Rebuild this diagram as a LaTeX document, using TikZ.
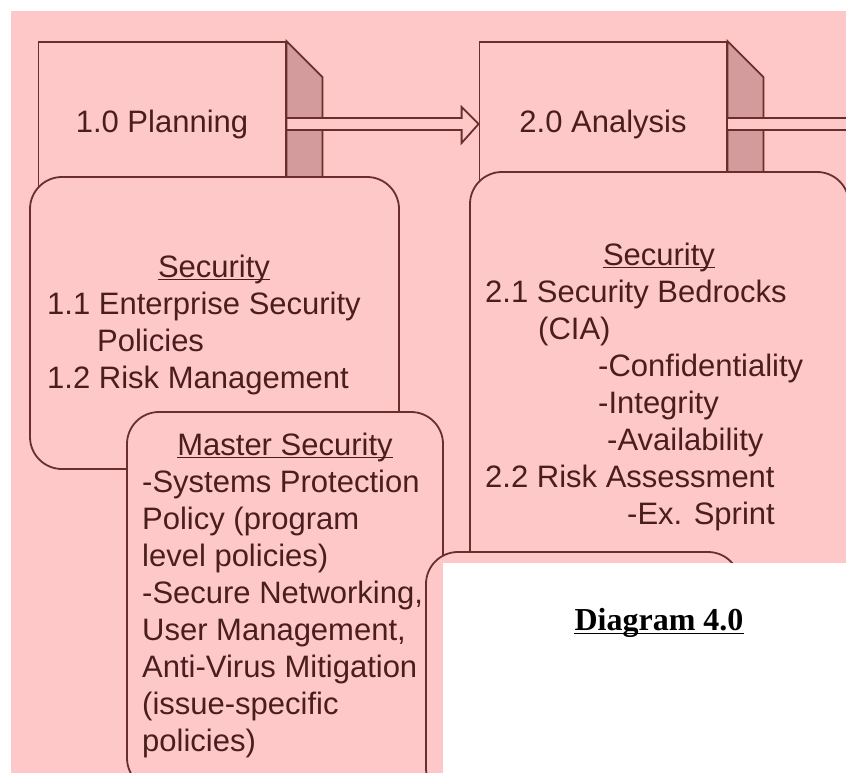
\documentclass[tikz,border=0pt]{standalone}
\usepackage{fontspec}
\setmainfont{Liberation Sans}
\newfontfamily\captionfont{Liberation Serif}
\definecolor{bgpink}{HTML}{FFC8C8}
\definecolor{sidepink}{HTML}{D39B9B}
\definecolor{edgebrown}{HTML}{6A2E2E}
\definecolor{inkbrown}{HTML}{4A1E1E}
\tikzset{
    every node/.style={inner sep=0pt, text=inkbrown, font=\fontsize{31}{37}\selectfont},
    stepbox/.style={draw=edgebrown, fill=bgpink, line width=1.8pt, minimum width=247pt, minimum height=164pt},
    sideface/.style={draw=edgebrown, fill=sidepink, line width=1.8pt},
    flowarrow/.style={draw=edgebrown, fill=bgpink, line width=1.8pt},
    secbox/.style={draw=edgebrown, fill=bgpink, line width=1.8pt, rounded corners=32pt},
    entry/.style={anchor=base west},
    heading/.style={anchor=base},
    underl/.style={draw=inkbrown, line width=1.4pt}
}
\begin{document}
\begin{tikzpicture}[x=1pt, y=-1pt]
    \useasboundingbox (0,0) rectangle (846,773);
    \clip (0,0) rectangle (846,773);
    \fill[white] (0,0) rectangle (846,773);
    \fill[bgpink] (11,11) rectangle (846,773);

    \node[stepbox] (planning) at (162,124) {1.0 Planning};
    \draw[sideface] (planning.north east) -- ++(36,36) |- (planning.south east) -- cycle;
    \node[stepbox] (analysis) at (603,124) {2.0 Analysis};
    \draw[sideface] (analysis.north east) -- ++(36,36) |- (analysis.south east) -- cycle;
    \coordinate (offright) at (880,124);

    \draw[flowarrow] ([yshift=6pt]planning.east) -- ([xshift=-17pt, yshift=6pt]analysis.west)
        -- ([xshift=-17pt, yshift=17pt]analysis.west) -- (analysis.west)
        -- ([xshift=-17pt, yshift=-19pt]analysis.west) -- ([xshift=-17pt, yshift=-6pt]analysis.west)
        -- ([yshift=-6pt]planning.east) -- cycle;
    \draw[flowarrow] ([yshift=6pt]analysis.east) -- ([yshift=6pt]offright)
        -- ([yshift=-6pt]offright) -- ([yshift=-6pt]analysis.east) -- cycle;

    \draw[secbox] (30,177) rectangle (399,469);
    \draw[secbox] (470,172) rectangle (849,700);
    \draw[secbox] (127,412) rectangle (443,790);
    \draw[secbox] (426,552) rectangle (740,800);

    \node[heading] (planhead) at (214,277) {Security};
    \foreach \dx/\txt [count=\i] in {0/1.1 Enterprise Security, 50/Policies, 0/1.2 Risk Management}
        \node[entry] (plan-\i) at (47+\dx, 277+37*\i) {\txt};

    \node[heading] (anahead) at (659,265) {Security};
    \foreach \dx/\txt [count=\i] in {0/2.1 Security Bedrocks, 53/(CIA), 113/-Confidentiality,
        113/-Integrity, 122/-Availability, 0/2.2 Risk Assessment, 142/-Ex. Sprint}
        \node[entry] (ana-\i) at (485+\dx, 265+37*\i) {\txt};

    \node[heading] (masterhead) at (285,455) {Master Security};
    \foreach \txt [count=\i] in {-Systems Protection, {Policy (program}, {level policies)},
        {-Secure Networking,}, {User Management,}, Anti-Virus Mitigation, {(issue-specific}, {policies)}}
        \node[entry] (master-\i) at (142, 455+37*\i) {\txt};

    \foreach \h in {planhead, anahead, masterhead}
        \draw[underl] ([yshift=-2.5pt]\h.base west) -- ([yshift=-2.5pt]\h.base east);

    \fill[white] (443,563) rectangle (846,773);
    \node[heading, text=black, font=\captionfont\fontsize{32}{38}\selectfont\bfseries] (diagtitle) at (659,630) {Diagram 4.0};
    \draw[black, line width=1.6pt] ([yshift=-3.5pt]diagtitle.base west) -- ([yshift=-3.5pt]diagtitle.base east);
\end{tikzpicture}
\end{document}
